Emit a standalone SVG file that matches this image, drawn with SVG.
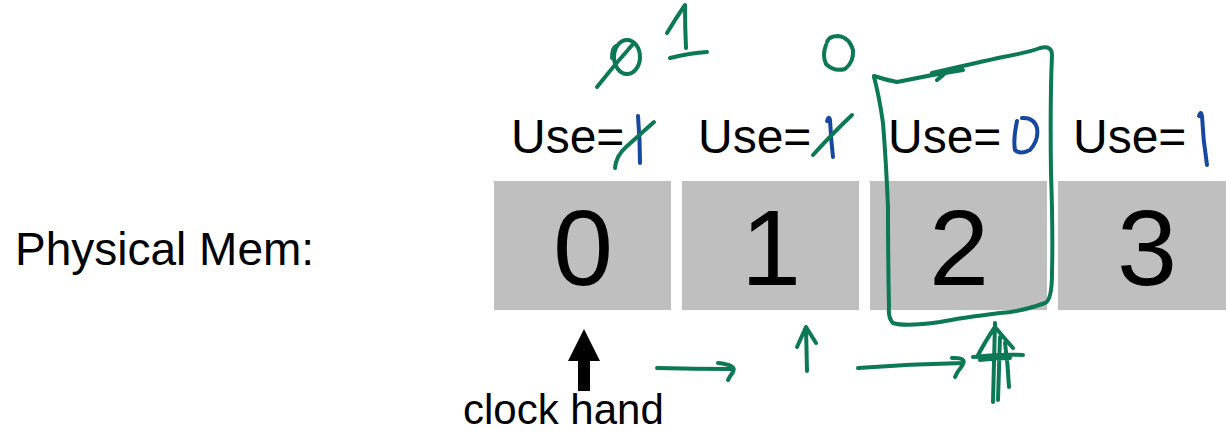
<svg xmlns="http://www.w3.org/2000/svg" width="1226" height="431" viewBox="0 0 1226 431">
<style>
.lbl{font-family:"Liberation Sans",Arial,sans-serif;fill:#000}
.use{font-size:48px}
.dig{font-size:108px;text-anchor:middle}
.cell{fill:#bfbfbf}
.g{fill:none;stroke:#0b7856;stroke-width:4;stroke-linecap:round;stroke-linejoin:round}
.b{fill:none;stroke:#17479e;stroke-width:4;stroke-linecap:round;stroke-linejoin:round}
</style>
<rect width="1226" height="431" fill="#fff"/>
<g id="label-physical"><text class="lbl" x="15" y="265" font-size="46">Physical Mem:</text></g>
<g id="frame0">
<rect class="cell" x="494" y="181" width="177" height="129"/>
<text class="lbl dig" x="583" y="285">0</text>
<text class="lbl use" x="511" y="153">Use=</text>
<path class="b" d="M638 116 Q640 140 640 163"/>
<path class="g" d="M615 168 Q616 156 626 147 L654 122"/>
</g>
<g id="frame1">
<rect class="cell" x="682" y="181" width="177" height="129"/>
<text class="lbl dig" x="771" y="285">1</text>
<text class="lbl use" x="698" y="153">Use=</text>
<path class="b" d="M827 121 Q829 115 830 120 Q831 140 833 157"/>
<path class="g" d="M813 155 Q830 136 852 115"/>
</g>
<g id="frame2">
<rect class="cell" x="870" y="181" width="177" height="129"/>
<text class="lbl dig" x="959" y="285">2</text>
<text class="lbl use" x="888" y="153">Use=</text>
<path class="b" d="M1017 121 Q1013 140 1015 150 Q1020 155 1030 150 Q1039 140 1037 128 Q1034 117 1022 118"/>
</g>
<g id="frame3">
<rect class="cell" x="1058" y="181" width="177" height="129"/>
<text class="lbl dig" x="1147" y="285">3</text>
<text class="lbl use" x="1073" y="153">Use=</text>
<path class="b" d="M1199 116 Q1201 110 1202 116 Q1203 140 1207 165"/>
</g>
<g id="annotations">
<ellipse class="g" cx="627" cy="57" rx="13" ry="17"/>
<path class="g" d="M612 58 Q612 48 616 46"/>
<path class="g" d="M597 87 Q615 64 634 43"/>
<path class="g" d="M667 33 Q676 18 685 5 Q685 28 686 48"/>
<path class="g" d="M670 58 Q690 53 707 52"/>
<path class="g" d="M826 45 Q822 55 826 64 Q834 72 845 69 Q854 62 853 50 Q849 37 838 36 Q829 36 827 42"/>
<path class="g" d="M874 76 Q886 80 897 82 Q930 75 963 70 M937 80 Q950 70 940 74 M932 73 Q980 62 1003 57 Q1030 52 1040 48 Q1052 45 1052 55 Q1050 100 1051 173 Q1053 230 1052 273 Q1052 300 1045 303 Q1020 312 1000 313 Q960 318 940 322 Q905 327 893 323 Q888 318 889 307 Q888 260 888 207 Q886 160 883 123 Q879 95 874 77"/>
<g id="clock-hand">
<polygon points="584,329 568,361 578,361 578,391 590,391 590,361 600,361" fill="#000"/>
<text class="lbl" x="463" y="424" font-size="42">clock hand</text>
</g>
</g>
<g id="connectors">
<path class="g" d="M657 368 Q695 369 732 369 M718 363 Q737 365 733 372 Q730 376 728 380"/>
<path class="g" d="M807 371 L806 327 M797 347 L806 327 L816 343"/>
<path class="g" d="M858 368 Q910 364 963 363 M952 358 Q968 357 962 366 Q957 372 955 377"/>
<path class="g" d="M995 323 Q994 360 993 402 M1000 337 Q999 370 998 400 M1005 343 Q1008 365 1009 387 M977 357 Q986 340 995 327 Q1004 338 1013 348 M973 357 Q1000 354 1023 355 M980 360 Q995 358 1010 358"/>
</g>
</svg>
